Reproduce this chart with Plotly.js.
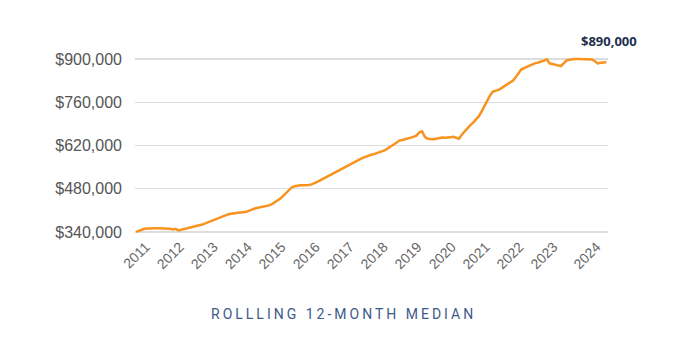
<!DOCTYPE html>
<html>
<head>
<meta charset="utf-8">
<script src="https://cdn.plot.ly/plotly-3.0.1.min.js"></script>
<style>
html,body{margin:0;padding:0;background:#fff;}
#chart{width:700px;height:350px;}
.annotation[data-index="1"] text{letter-spacing:3px;}
</style>
</head>
<body>
<div id="chart"></div>
<script>
// Monthly rolling 12-month median price (thousands of $), Jan 2011 - Nov 2024
const startYear = 2011;
const v2011 = [340,344,347,350,351,352,352,352,352,352,351,351];
const v2012 = [350,348,350,345,347,349,352,354,356,358,361,363];
const v2013 = [366,370,374,378,381,385,388,391,395,398,400,401];
const v2014 = [402,403,404,405,409,413,416,418,420,421,423,426];
const v2015 = [430,436,442,448,457,467,477,484,488,490,491,491];
const v2016 = [491,492,494,497,502,507,512,516,521,525,530,536];
const v2017 = [541,546,551,555,560,565,570,575,580,584,587,590];
const v2018 = [592,595,597,600,605,611,616,623,630,636,638,640];
const v2019 = [642,645,648,652,662,666,648,642,641,640,642,644];
const v2020 = [646,645,647,647,648,645,642,655,666,676,686,694];
const v2021 = [705,715,730,748,765,782,795,797,800,806,812,818];
const v2022 = [825,830,840,852,866,871,875,880,885,887,889,891];
const v2023 = [895,899,886,884,881,879,877,886,896,898,900,900];
const v2024 = [900,900,900,900,900,899,893,886,888,890,890];

const yearly = [v2011,v2012,v2013,v2014,v2015,v2016,v2017,v2018,v2019,v2020,v2021,v2022,v2023,v2024];

const tickYears = ['2011','2012','2013','2014','2015','2016','2017','2018','2019','2020','2021','2022','2023','2024'];
const tickDates = ['2011-04-15','2012-04-15','2013-04-15','2014-04-15','2015-04-15','2016-04-15','2017-04-15','2018-04-15','2019-04-15','2020-04-15','2021-04-15','2022-04-15','2023-04-15','2024-07-20'];
const yTicks = [340000,480000,620000,760000,900000];
const yTickText = ['$340,000','$480,000','$620,000','$760,000','$900,000'];
const latestLabel = '$890,000';
const bottomTitle = 'ROLLLING 12-MONTH MEDIAN';

const dates = [], values = [];
yearly.forEach((arr, yi) => {
  arr.forEach((v, mi) => {
    const m = String(mi + 1).padStart(2, '0');
    dates.push((startYear + yi) + '-' + m + '-01');
    values.push(v * 1000);
  });
});

const trace = {
  x: dates, y: values, type: 'scatter', mode: 'lines',
  line: {color: '#f7931e', width: 2.5, shape: 'linear'},
  hoverinfo: 'skip'
};

const layout = {
  width: 700, height: 350,
  margin: {l: 135, r: 92, t: 56, b: 115},
  paper_bgcolor: '#ffffff', plot_bgcolor: '#ffffff',
  showlegend: false,
  xaxis: {
    type: 'date',
    range: ['2010-12-21', '2024-11-19'],
    tickvals: tickDates, ticktext: tickYears,
    tickangle: -45,
    showgrid: false, zeroline: false, showline: false,
    ticks: '',
    tickfont: {family: 'Liberation Sans, Arial, sans-serif', size: 14, color: '#666666'}
  },
  yaxis: {
    range: [330000, 910000],
    tickvals: yTicks, ticktext: yTickText,
    showgrid: true, gridcolor: '#dddddd', gridwidth: 1.5,
    zeroline: false, showline: false, ticks: '',
    ticklabelstandoff: 12,
    tickfont: {family: 'Liberation Sans, Arial, sans-serif', size: 16, color: '#555555'}
  },
  annotations: [
    {
      xref: 'paper', yref: 'paper', x: 1.0, y: 1.0,
      xanchor: 'center', yanchor: 'bottom', yshift: 4, xshift: 1,
      text: '<b>' + latestLabel + '</b>', showarrow: false,
      font: {family: 'Open Sans, sans-serif', size: 13, color: '#1e2f4f'}
    },
    {
      xref: 'paper', yref: 'paper', x: 0.44, y: -0.44,
      xanchor: 'center', yanchor: 'middle',
      text: bottomTitle, showarrow: false,
      font: {family: 'Roboto, sans-serif', size: 14, color: '#3d5a8a'}
    }
  ]
};

Plotly.newPlot('chart', [trace], layout, {displayModeBar: false, staticPlot: true});
</script>
</body>
</html>
